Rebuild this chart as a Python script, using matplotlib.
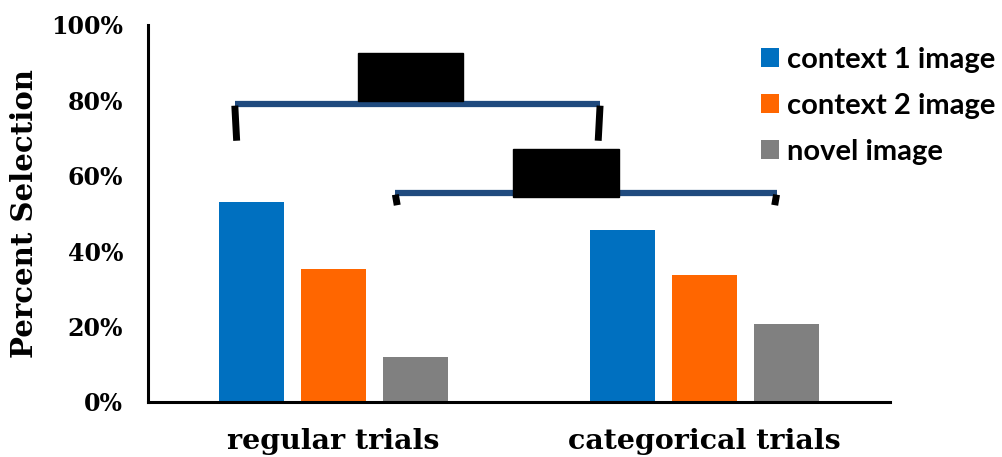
from matplotlib import pyplot as plt
from matplotlib.patches import Rectangle
import numpy as np

# data
groups = ["regular trials", "categorical trials"]
series = ["context 1 image", "context 2 image", "novel image"]
context1 = [53.0, 45.6]
context2 = [35.3, 33.7]
novel = [11.9, 20.7]
colors = ["#0070C0", "#FF6600", "#808080"]
yticks = [0, 20, 40, 60, 80, 100]

# comparison brackets: (x_left, x_right, y_line, y_tick_bottom)
brackets = [(-0.266, 0.719, 79.0, 69.3), (0.167, 1.195, 55.4, 52.2)]
# black boxes sitting on the brackets: (x, y, w, h)
boxes = [(0.067, 79.8, 0.283, 12.7), (0.485, 54.4, 0.285, 12.7)]

fig = plt.figure(figsize=(10.03, 4.57), dpi=100)
ax = fig.add_axes([0.1476, 0.1204, 0.7394, 0.8249])

x = np.arange(len(groups))
width = 0.175
step = 0.2207
for i, (vals, lab) in enumerate(zip([context1, context2, novel], series)):
    ax.bar(x + (i - 1) * step, vals, width, color=colors[i], label=lab, zorder=2)

for xl, xr, yl, yb in brackets:
    ax.plot([xl, xr], [yl, yl], color="#1F4A7E", lw=4.5, solid_capstyle="butt", zorder=3)
    ax.plot([xl, xl + 0.005], [yl - 0.4, yb], color="black", lw=5, solid_capstyle="butt", zorder=4)
    ax.plot([xr, xr - 0.005], [yl - 0.4, yb], color="black", lw=5, solid_capstyle="butt", zorder=4)

for bx, by, bw, bh in boxes:
    ax.add_patch(Rectangle((bx, by), bw, bh, color="black", zorder=5, clip_on=False))

ax.set_xlim(-0.5, 1.5)
ax.set_ylim(0, 100)
ax.set_yticks(yticks)
ax.set_yticklabels([f"{t}%" for t in yticks], fontfamily="DejaVu Serif",
                   fontweight="bold", fontsize=17)
ax.set_xticks(x)
ax.set_xticklabels(groups, fontfamily="DejaVu Serif", fontweight="bold", fontsize=20.5)
ax.tick_params(axis="y", length=0, pad=18)
ax.tick_params(axis="x", length=0, pad=19)

ax.set_ylabel("Percent Selection", fontfamily="DejaVu Serif", fontweight="bold", fontsize=21)
ax.yaxis.set_label_coords(-0.147, 0.5)

for s in ["top", "right"]:
    ax.spines[s].set_visible(False)
for s in ["left", "bottom"]:
    ax.spines[s].set_linewidth(2.2)
    ax.spines[s].set_color("black")

ax.legend(loc="upper left", bbox_to_anchor=(0.826, 0.942), frameon=False,
          prop={"family": "Lato", "weight": "bold", "size": 21},
          handlelength=0.62, handleheight=0.62, handletextpad=0.3,
          labelspacing=0.68, borderaxespad=0, borderpad=0)

fig.savefig("out.png", dpi=100)
